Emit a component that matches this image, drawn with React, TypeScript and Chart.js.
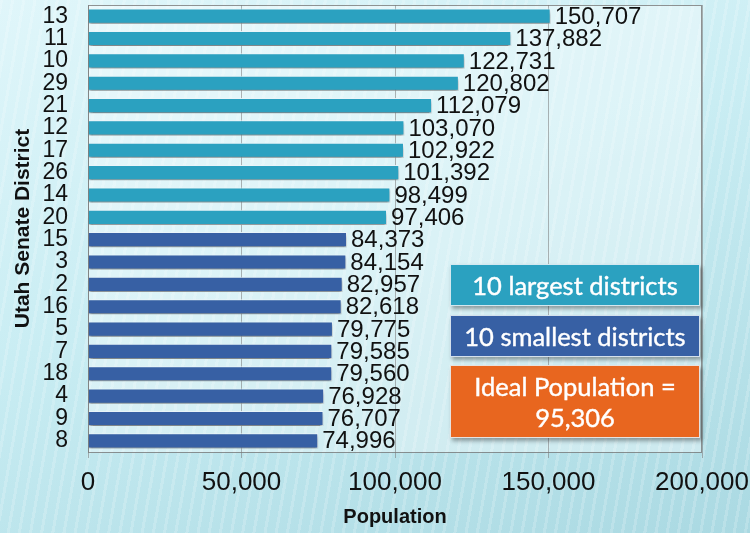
import React, { useEffect, useRef } from "react";
import { Chart, registerables } from "chart.js";

Chart.register(...registerables);

const districts = ["13", "11", "10", "29", "21", "12", "17", "26", "14", "20", "15", "3", "2", "16", "5", "7", "18", "4", "9", "8"];
const populations = [150707, 137882, 122731, 120802, 112079, 103070, 102922, 101392, 98499, 97406, 84373, 84154, 82957, 82618, 79775, 79585, 79560, 76928, 76707, 74996];
const groups = ["large", "large", "large", "large", "large", "large", "large", "large", "large", "large", "small", "small", "small", "small", "small", "small", "small", "small", "small", "small"];
const xTicks = [0, 50000, 100000, 150000, 200000];
const legendLabels = ["10 largest districts", "10 smallest districts", "Ideal Population =", "95,306"];

const TEAL = "#2ba1c0";
const BLUE = "#3760a4";
const ORANGE = "#e8661f";
const FONT = "'Liberation Sans', Arial, sans-serif";

const fmt = (v: number) => v.toLocaleString("en-US");

export default function App() {
  const ref = useRef<HTMLCanvasElement | null>(null);

  useEffect(() => {
    const canvas = ref.current;
    if (!canvas) return;

    const plotBg = {
      id: "plotBg",
      beforeDraw(chart: any) {
        const { ctx, chartArea: a } = chart;
        ctx.save();
        ctx.fillStyle = "rgba(255,255,255,0.35)";
        ctx.fillRect(a.left, a.top, a.right - a.left, a.bottom - a.top);
        ctx.restore();
      },
      afterDraw(chart: any) {
        const { ctx, chartArea: a } = chart;
        ctx.save();
        ctx.strokeStyle = "rgba(120,120,120,0.8)";
        ctx.lineWidth = 1;
        ctx.strokeRect(a.left + 0.5, a.top + 0.5, a.right - a.left - 1, a.bottom - a.top);
        ctx.restore();
      },
    };

    const shadow = {
      id: "shadow",
      beforeDatasetsDraw(chart: any) {
        const ctx = chart.ctx;
        ctx.save();
        ctx.shadowColor = "rgba(0,0,0,0.45)";
        ctx.shadowBlur = 3;
        ctx.shadowOffsetY = 3;
        ctx.shadowOffsetX = 0;
      },
      afterDatasetsDraw(chart: any) {
        chart.ctx.restore();
      },
    };

    const labels = {
      id: "valueLabels",
      afterDatasetsDraw(chart: any) {
        const { ctx } = chart;
        const meta = chart.getDatasetMeta(0);
        ctx.save();
        ctx.font = `24px ${FONT}`;
        ctx.fillStyle = "#111";
        ctx.textAlign = "left";
        ctx.textBaseline = "middle";
        meta.data.forEach((bar: any, i: number) => {
          ctx.fillText(fmt(populations[i]), bar.x + 4, bar.y + 1);
        });
        ctx.restore();
      },
    };

    const chart = new Chart(canvas, {
      type: "bar",
      data: {
        labels: districts,
        datasets: [
          {
            data: populations,
            backgroundColor: groups.map((g) => (g === "large" ? TEAL : BLUE)),
            borderColor: "rgba(235,245,250,0.9)",
            borderWidth: 1,
            barPercentage: 0.68,
            categoryPercentage: 1,
          },
        ],
      },
      options: {
        indexAxis: "y",
        animation: false,
        responsive: false,
        maintainAspectRatio: false,
        layout: { padding: { top: 5, right: 48, left: 0, bottom: 0 } },
        plugins: {
          legend: { display: false },
          tooltip: { enabled: false },
        },
        scales: {
          x: {
            min: 0,
            max: 200000,
            afterBuildTicks: (scale: any) => {
              scale.ticks = xTicks.map((v) => ({ value: v }));
            },
            afterFit: (scale: any) => {
              scale.height = 81;
              scale.paddingLeft = 0;
              scale.paddingRight = 0;
              scale.paddingTop = 0;
              scale.paddingBottom = 0;
            },
            ticks: {
              callback: (v: any) => fmt(Number(v)),
              color: "#111",
              font: { family: FONT, size: 26 },
              padding: 9,
              maxRotation: 0,
            },
            grid: {
              color: "rgba(120,120,120,0.55)",
              tickLength: 6,
              drawTicks: true,
            },
            border: { display: false },
            title: {
              display: true,
              text: "Population",
              color: "#111",
              font: { family: FONT, size: 20, weight: "bold" },
              padding: { top: 0, bottom: 4 },
            },
          },
          y: {
            afterFit: (scale: any) => {
              scale.width = 88;
              scale.paddingLeft = 0;
              scale.paddingRight = 0;
              scale.paddingTop = 0;
              scale.paddingBottom = 0;
            },
            ticks: {
              color: "#111",
              font: { family: FONT, size: 23 },
              padding: 20,
              autoSkip: false,
            },
            grid: { display: false, drawTicks: false },
            border: { display: false },
            title: {
              display: true,
              text: "Utah Senate District",
              color: "#111",
              font: { family: FONT, size: 21, weight: "bold" },
              padding: { top: 11, bottom: 0 },
            },
          },
        },
      },
      plugins: [plotBg, shadow, labels],
    } as any);

    return () => chart.destroy();
  }, []);

  const boxBase: React.CSSProperties = {
    position: "absolute",
    left: 450,
    width: 250,
    boxSizing: "border-box",
    color: "#fff",
    fontFamily: "Lato, 'Open Sans', sans-serif",
    fontSize: 25.5,
    display: "flex",
    flexDirection: "column",
    alignItems: "center",
    justifyContent: "center",
    border: "1.5px solid rgba(230,240,245,0.9)",
    boxShadow: "2px 3px 4px rgba(0,0,0,0.35)",
    lineHeight: 1.2,
    textAlign: "center",
    whiteSpace: "nowrap",
    WebkitTextStroke: "0.4px #fff",
  };

  return (
    <div
      style={{
        position: "fixed",
        left: 0,
        top: 0,
        width: 750,
        height: 533,
        overflow: "hidden",
        background:
          "repeating-linear-gradient(100deg, rgba(255,255,255,0.18) 0px, rgba(255,255,255,0.18) 3px, rgba(255,255,255,0) 3px, rgba(255,255,255,0) 11px), linear-gradient(160deg, #e0f6fa 0%, #c9edf3 45%, #aad9e2 100%)",
      }}
    >
      <canvas ref={ref} width={750} height={533} style={{ position: "absolute", left: 0, top: 0, width: 750, height: 533 }} />
      <div style={{ ...boxBase, top: 264, height: 42, background: TEAL }}>{legendLabels[0]}</div>
      <div style={{ ...boxBase, top: 315, height: 42, background: BLUE }}>{legendLabels[1]}</div>
      <div style={{ ...boxBase, top: 365, height: 73, background: ORANGE }}>
        <span>{legendLabels[2]}</span>
        <span>{legendLabels[3]}</span>
      </div>
    </div>
  );
}
